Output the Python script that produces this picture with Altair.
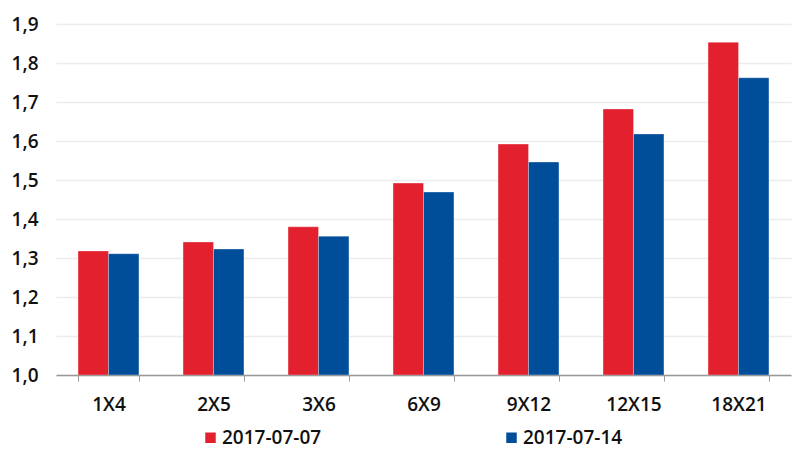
import altair as alt
import pandas as pd

categories = ["1X4", "2X5", "3X6", "6X9", "9X12", "12X15", "18X21"]
series_names = ["2017-07-07", "2017-07-14"]
values_0707 = [1.318, 1.341, 1.380, 1.492, 1.592, 1.682, 1.853]
values_0714 = [1.311, 1.323, 1.356, 1.469, 1.546, 1.618, 1.762]
colors = ["#E3202E", "#004D99"]

rows = []
for c, a, b in zip(categories, values_0707, values_0714):
    rows.append({"cat": c, "series": series_names[0], "value": a})
    rows.append({"cat": c, "series": series_names[1], "value": b})
df = pd.DataFrame(rows)

FONT = "Open Sans"
FS = 19
FW = 600
TXT = "#111111"

chart = alt.Chart(df).mark_bar(clip=True, strokeWidth=0.6, strokeOpacity=0.5, stroke="#ffffff").encode(
    x=alt.X("cat:N", sort=categories, title=None,
            scale=alt.Scale(paddingInner=0.42, paddingOuter=0.21),
            axis=alt.Axis(labelAngle=0, tickBand="extent", ticks=True, tickSize=6,
                          tickColor="#999999", domainColor="#999999", domainWidth=1.5,
                          labelFontSize=FS, labelFont=FONT, labelColor=TXT,
                          labelFontWeight=FW, labelPadding=14, grid=False)),
    xOffset=alt.XOffset("series:N", sort=series_names),
    y=alt.Y("value:Q", title=None,
            scale=alt.Scale(domain=[1.0, 1.9], nice=False, zero=False),
            axis=alt.Axis(values=[1.0, 1.1, 1.2, 1.3, 1.4, 1.5, 1.6, 1.7, 1.8, 1.9],
                          labelExpr="replace(format(datum.value, '.1f'), '.', ',')",
                          domain=False, ticks=False, gridColor="#ececec", gridWidth=1.5,
                          labelFontSize=FS, labelFont=FONT, labelColor=TXT,
                          labelFontWeight=FW, labelPadding=18)),
    y2=alt.Y2(datum=1.0),
    color=alt.Color("series:N", sort=series_names,
                    scale=alt.Scale(domain=series_names, range=colors),
                    legend=alt.Legend(title=None, orient="none", direction="horizontal",
                                      legendX=145, legendY=404,
                                      symbolType="square", symbolSize=110,
                                      symbolStrokeWidth=0, labelFontSize=FS, labelFont=FONT,
                                      labelFontWeight=FW,
                                      labelColor=TXT, columnPadding=180,
                                      labelOffset=2)),
).properties(
    width=735, height=351,
    padding={"left": 56, "top": 24, "right": 2, "bottom": 74},
    autosize=alt.AutoSizeParams(type="none"),
).configure(background="white").configure_view(stroke=None, strokeWidth=0)

chart.save("out.html", embed_options={"renderer": "svg", "actions": False})
